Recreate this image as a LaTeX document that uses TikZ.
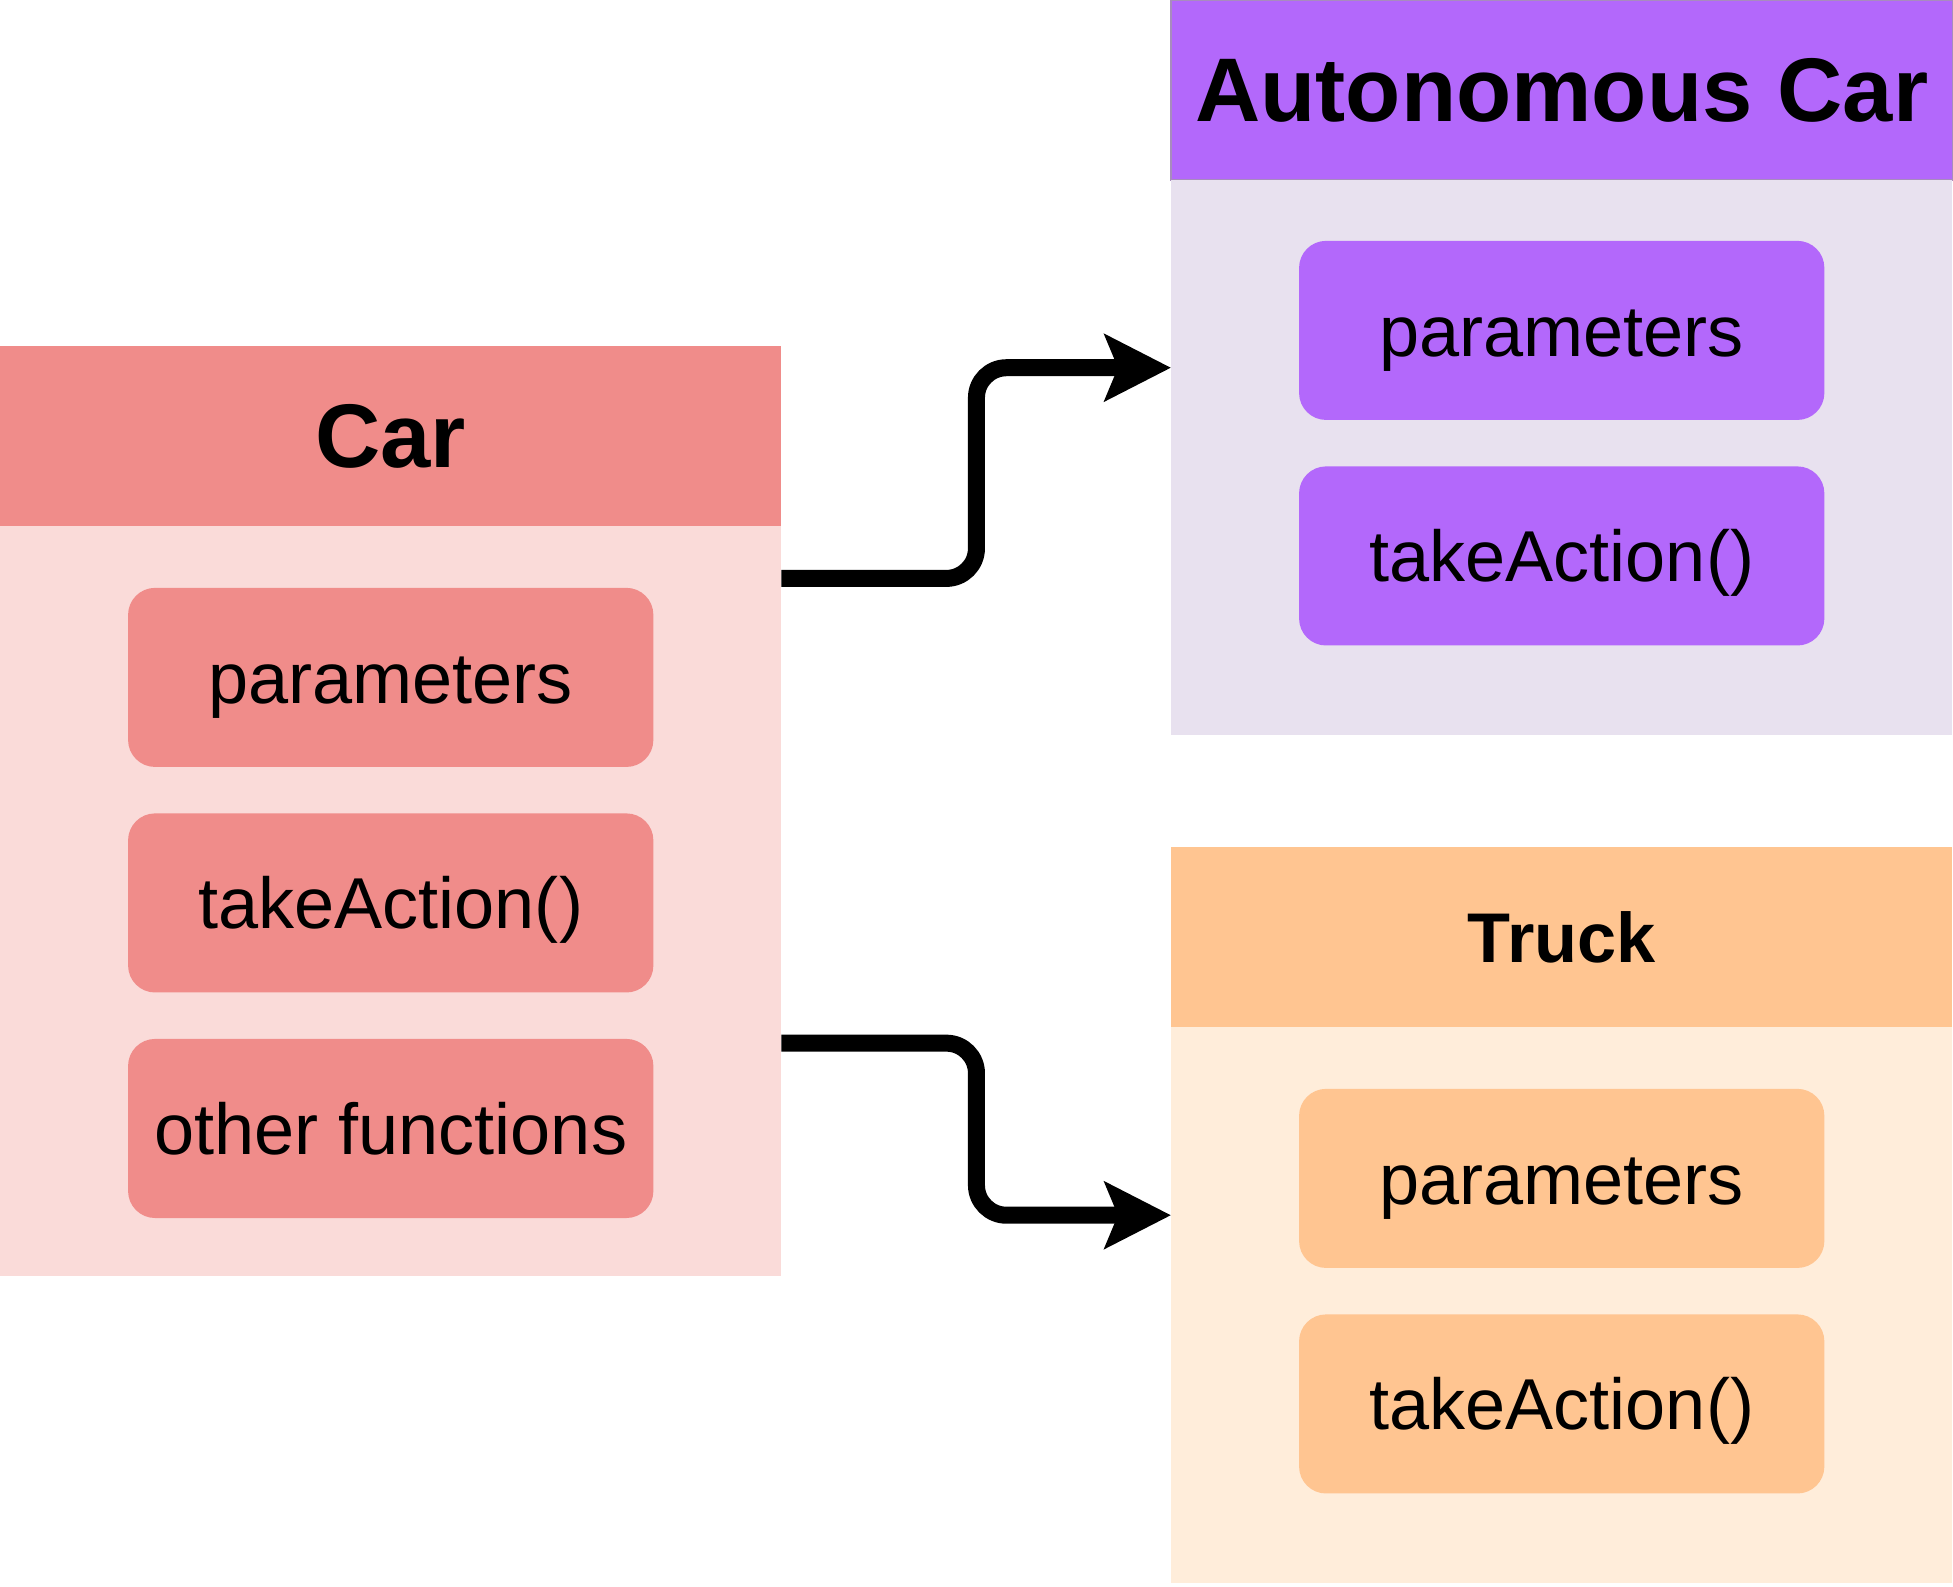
\documentclass[tikz,border=0pt]{standalone}
\usepackage{fontspec}
\setmainfont{Liberation Sans}
\usetikzlibrary{arrows.meta, calc, positioning}
\definecolor{carhead}{HTML}{F08C8A}
\definecolor{carbody}{HTML}{FADBD9}
\definecolor{autohead}{HTML}{B368FB}
\definecolor{autobody}{HTML}{E8E1EF}
\definecolor{autoedge}{HTML}{A88BBE}
\definecolor{truckhead}{HTML}{FFC591}
\definecolor{truckbody}{HTML}{FFEDDA}

\begin{document}
\begin{tikzpicture}[
        x=0.01cm, y=-0.01cm,
        header/.style={minimum width=7.81cm, minimum height=1.8cm,
                       inner sep=0pt, outer sep=0pt,
                       font=\fontsize{25.7}{31}\selectfont\bfseries},
        body/.style={minimum width=7.81cm, inner sep=0pt, outer sep=0pt},
        member/.style={rounded corners=0.27cm, minimum width=5.25cm,
                       minimum height=1.79cm, inner sep=0pt,
                       text height=0.58cm, text depth=0.06cm,
                       font=\fontsize{20.5}{25}\selectfont},
        arr/.style={-{Stealth[length=0.66cm, width=0.66cm, inset=0.13cm]},
                    line width=0.17cm, rounded corners=0.3cm},
        node distance=0.45cm
      ]
      \useasboundingbox (0,0) rectangle (1953,1587);

      % ── Basisklasse: Car ──
      \node[header, fill=carhead, anchor=north west] (carhead) at (0,346) {Car};
      \node[body, fill=carbody, minimum height=7.49cm, below=0pt of carhead] (carbody) {};
      \node[member, fill=carhead, below=0.61cm of carhead] (carpar)   {parameters};
      \node[member, fill=carhead, below=of carpar]          (caract)   {takeAction()};
      \node[member, fill=carhead, below=of caract]          (carother) {other functions};

      % ── Unterklasse: Autonomous Car ──
      \node[header, fill=autohead, draw=autoedge, line width=0.5pt,
            anchor=north west] (autohead) at (1171,0) {Autonomous Car};
      \node[body, fill=autobody, minimum height=5.55cm, below=0pt of autohead] (autobody) {};
      \node[member, fill=autohead, below=0.6cm of autohead] (autopar) {parameters};
      \node[member, fill=autohead, below=of autopar]        (autoact) {takeAction()};

      % ── Unterklasse: Truck ──
      \node[header, fill=truckhead, font=\fontsize{20}{25}\selectfont\bfseries,
            anchor=north west] (truckhead) at (1171,847) {Truck};
      \node[body, fill=truckbody, minimum height=5.56cm, below=0pt of truckhead] (truckbody) {};
      \node[member, fill=truckhead, below=0.61cm of truckhead] (truckpar) {parameters};
      \node[member, fill=truckhead, below=of truckpar]         (truckact) {takeAction()};

      % ── Vererbung ──
      \coordinate (s1) at ($(carhead.north east)!0.25!(carbody.south east)$);
      \coordinate (s2) at ($(carhead.north east)!0.75!(carbody.south east)$);
      \coordinate (t1) at ($(autohead.north west)!0.5!(autobody.south west)$);
      \coordinate (t2) at ($(truckhead.north west)!0.5!(truckbody.south west)$);

      \foreach \a/\b in {s1/t1, s2/t2}
        \draw[arr] (\a) -- ++(195,0) |- (\b);
    \end{tikzpicture}
\end{document}
